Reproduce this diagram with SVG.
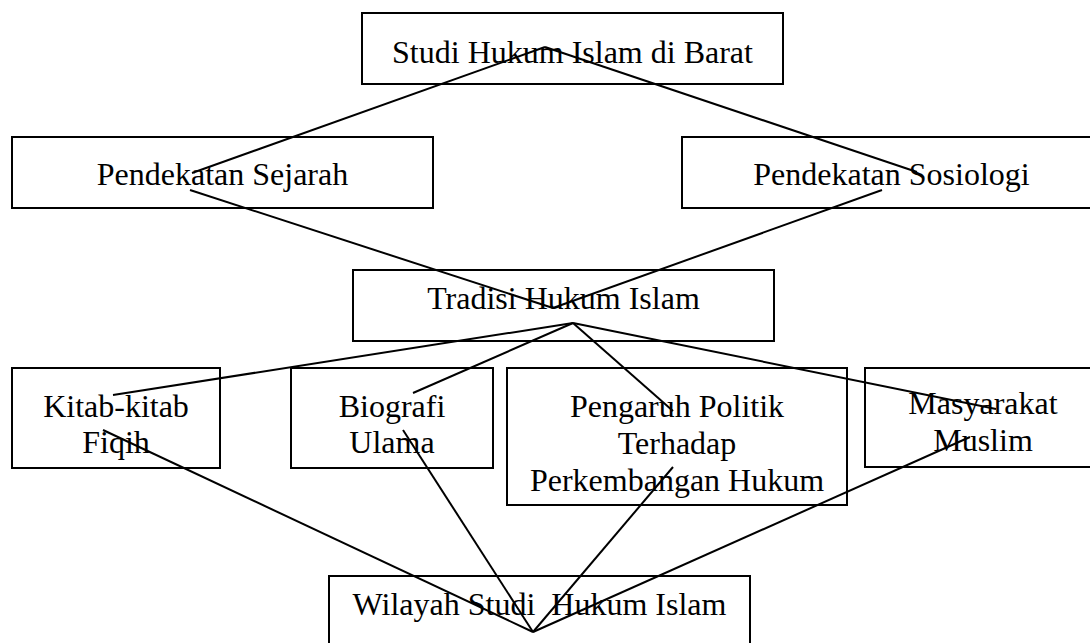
<svg xmlns="http://www.w3.org/2000/svg" width="1090" height="643" viewBox="0 0 1090 643">
<style>
rect.box{fill:#fff;stroke:#000;stroke-width:2}
text{font-family:"Liberation Serif","Times New Roman",serif;font-size:32px;fill:#000;text-anchor:middle}
.conn line{stroke:#000;stroke-width:2}
</style>
<rect width="1090" height="643" fill="#fff"/>
<g id="n-studi"><rect class="box" x="362" y="13" width="421" height="71"/><text x="572.5" y="63">Studi Hukum Islam di Barat</text></g>
<g id="n-sejarah"><rect class="box" x="12" y="137" width="421" height="71"/><text x="222.5" y="185">Pendekatan Sejarah</text></g>
<g id="n-sosiologi"><rect class="box" x="682" y="137" width="421" height="71"/><text x="891.5" y="185">Pendekatan Sosiologi</text></g>
<g id="n-tradisi"><rect class="box" x="353" y="270" width="421" height="71"/><text x="563.5" y="309">Tradisi Hukum Islam</text></g>
<g id="n-kitab"><rect class="box" x="12" y="368" width="208" height="100"/><text x="116" y="417">Kitab-kitab</text><text x="116" y="453">Fiqih</text></g>
<g id="n-biografi"><rect class="box" x="291" y="368" width="202" height="100"/><text x="392" y="417">Biografi</text><text x="392" y="453">Ulama</text></g>
<g id="n-pengaruh"><rect class="box" x="507" y="368" width="340" height="137"/><text x="677" y="417">Pengaruh Politik</text><text x="677" y="454">Terhadap</text><text x="677" y="491">Perkembangan Hukum</text></g>
<g id="n-masyarakat"><rect class="box" x="865" y="368" width="236" height="99"/><text x="983" y="414">Masyarakat</text><text x="983" y="451">Muslim</text></g>
<g id="n-wilayah"><rect class="box" x="329" y="576" width="421" height="80"/><text x="539.5" y="615" xml:space="preserve">Wilayah Studi  Hukum Islam</text></g>
<g class="conn" id="connectors">
<line x1="545" y1="47" x2="192" y2="173"/>
<line x1="545" y1="47" x2="917" y2="172"/>
<line x1="190" y1="190" x2="553" y2="308"/>
<line x1="882" y1="190" x2="553" y2="308"/>
<line x1="573" y1="323" x2="113" y2="395"/>
<line x1="573" y1="323" x2="413" y2="393"/>
<line x1="573" y1="323" x2="673" y2="411"/>
<line x1="573" y1="323" x2="996" y2="409"/>
<line x1="103" y1="430" x2="533" y2="632"/>
<line x1="403" y1="430" x2="533" y2="632"/>
<line x1="673" y1="467" x2="533" y2="632"/>
<line x1="970" y1="437" x2="533" y2="632"/>
</g>
</svg>
